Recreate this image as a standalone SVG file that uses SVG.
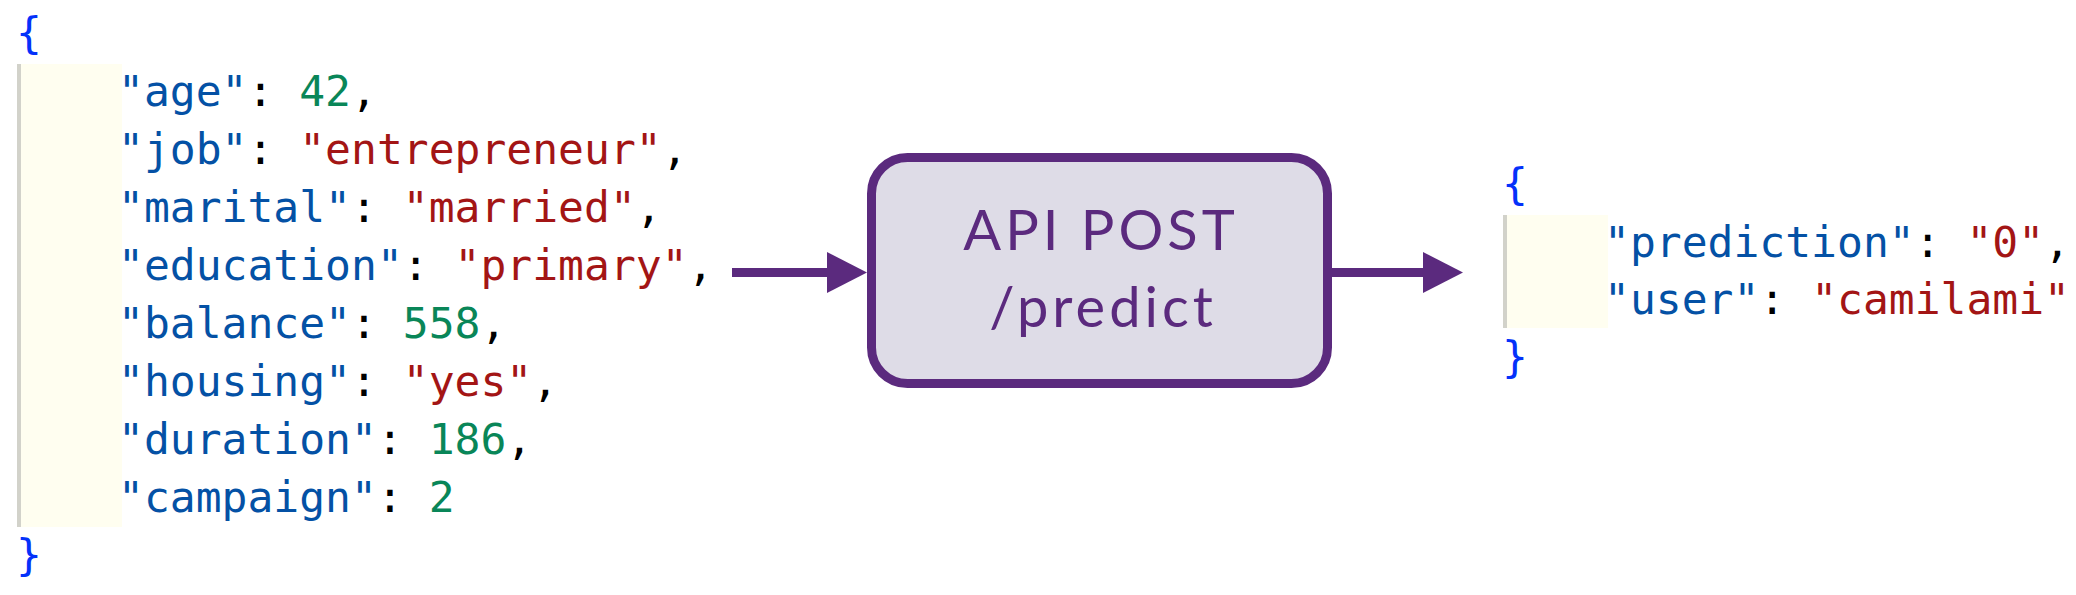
<svg xmlns="http://www.w3.org/2000/svg" width="2076" height="595" viewBox="0 0 2076 595">
<defs>
<style>
.code{font-family:"DejaVu Sans Mono","Liberation Mono",monospace;font-size:43px;fill:#000}
.k{fill:#0451A5}
.s{fill:#A31515}
.n{fill:#098658}
.b{fill:#0431FA}
.gut{fill:#FFFEF0}
.guide{fill:#D2D2CA}
.box{fill:#DEDCE7;stroke:#5B2A7E;stroke-width:9}
.lbl{font-family:Lato,"Open Sans",sans-serif;font-weight:400;font-size:56px;letter-spacing:4px;fill:#5B2A7E;text-anchor:middle}
.arr{stroke:#5B2A7E;stroke-width:9;fill:none}
.head{fill:#5B2A7E}
</style>
</defs>
<rect width="2076" height="595" fill="#FFFFFF"/>
<g id="request">
<rect class="gut" x="17" y="64" width="105" height="463"/>
<rect class="guide" x="17" y="64" width="4" height="463"/>
<text class="code" x="16" y="48"><tspan class="b">{</tspan></text>
<text class="code" x="118" y="106"><tspan class="k">"age"</tspan>: <tspan class="n">42</tspan>,</text>
<text class="code" x="118" y="164"><tspan class="k">"job"</tspan>: <tspan class="s">"entrepreneur"</tspan>,</text>
<text class="code" x="118" y="222"><tspan class="k">"marital"</tspan>: <tspan class="s">"married"</tspan>,</text>
<text class="code" x="118" y="280"><tspan class="k">"education"</tspan>: <tspan class="s">"primary"</tspan>,</text>
<text class="code" x="118" y="338"><tspan class="k">"balance"</tspan>: <tspan class="n">558</tspan>,</text>
<text class="code" x="118" y="396"><tspan class="k">"housing"</tspan>: <tspan class="s">"yes"</tspan>,</text>
<text class="code" x="118" y="454"><tspan class="k">"duration"</tspan>: <tspan class="n">186</tspan>,</text>
<text class="code" x="118" y="512"><tspan class="k">"campaign"</tspan>: <tspan class="n">2</tspan></text>
<text class="code" x="16" y="570"><tspan class="b">}</tspan></text>
</g>
<g id="api">
<rect class="box" x="871.5" y="157.5" width="456" height="226" rx="36" ry="36"/>
<text class="lbl" x="1101" y="250">API POST</text>
<text class="lbl" x="1103" y="327">/predict</text>
</g>
<g id="response">
<rect class="gut" x="1503" y="215" width="105" height="113"/>
<rect class="guide" x="1503" y="215" width="4" height="113"/>
<text class="code" x="1502" y="199"><tspan class="b">{</tspan></text>
<text class="code" x="1604" y="257"><tspan class="k">"prediction"</tspan>: <tspan class="s">"0"</tspan>,</text>
<text class="code" x="1604" y="314"><tspan class="k">"user"</tspan>: <tspan class="s">"camilami"</tspan></text>
<text class="code" x="1502" y="372"><tspan class="b">}</tspan></text>
</g>
<g id="connectors">
<line class="arr" x1="732" y1="272.5" x2="830" y2="272.5"/>
<polygon class="head" points="827,252 867,272.5 827,293"/>
<line class="arr" x1="1330" y1="272.5" x2="1426" y2="272.5"/>
<polygon class="head" points="1423,252 1463,272.5 1423,293"/>
</g>
</svg>
